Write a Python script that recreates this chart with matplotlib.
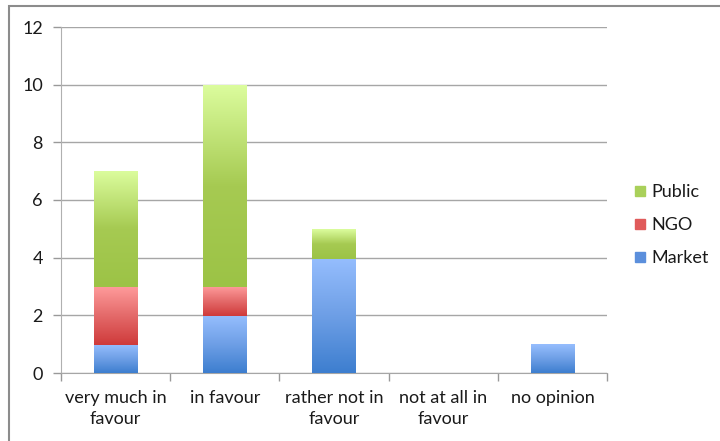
import numpy as np
import matplotlib
matplotlib.use("Agg")
import matplotlib.pyplot as plt
from matplotlib.colors import LinearSegmentedColormap
from matplotlib.patches import Rectangle
from matplotlib.lines import Line2D

plt.rcParams['font.family'] = ['Lato', 'DejaVu Sans']

categories = ["very much in\nfavour", "in favour", "rather not in\nfavour",
              "not at all in\nfavour", "no opinion"]
market = [1, 2, 4, 0, 1]
ngo = [2, 1, 0, 0, 0]
public = [4, 7, 1, 0, 0]

series = [
    ("Market", market, ["#3d7ecf", "#6e9fe6", "#96befe"], "#5b8fdc"),
    ("NGO", ngo, ["#cf3a3a", "#e46a6a", "#ff9c9c"], "#e05a5a"),
    ("Public", public, ["#9cc346", "#a6ca52", "#dcfd9e"], "#a9d05a"),
]

fig = plt.figure(figsize=(7.2, 4.41), dpi=100)
ax = fig.add_axes([61 / 720, 1 - 373 / 441, 546 / 720, 346 / 441])

x = np.arange(len(categories))
bottom = np.zeros(len(categories))
grad = np.linspace(0, 1, 256).reshape(-1, 1)
overlap = 0.03  # stacked segments overlap a hair so no seam shows

for name, vals, cols, solid in series:
    vals = np.array(vals, dtype=float)
    bars = ax.bar(x, vals, width=0.4, bottom=bottom, color="none",
                  edgecolor="none", zorder=3)
    cmap = LinearSegmentedColormap.from_list(name, cols)
    for b in bars:
        h = b.get_height()
        if h <= 0:
            continue
        x0, y0, w = b.get_x(), b.get_y(), b.get_width()
        lo = y0 - overlap if y0 > 0 else y0
        im = ax.imshow(grad, cmap=cmap, origin="lower", aspect="auto",
                       extent=[x0, x0 + w, lo, y0 + h], zorder=3,
                       interpolation="bicubic")
        clip = Rectangle((x0, lo), w, y0 + h - lo, transform=ax.transData)
        im.set_clip_path(clip)
    bottom += vals

ax.set_xlim(-0.5, len(categories) - 0.5)
ax.set_ylim(0, 12)
ax.set_yticks(np.arange(0, 13, 2))
ax.set_xticks(x)
ax.set_xticklabels(categories, fontsize=13, color="#1a1a1a", linespacing=1.4)
ax.tick_params(axis="y", labelsize=13, colors="#1a1a1a", length=6,
               width=1, color="#999999", pad=7)
ax.tick_params(axis="x", length=0, pad=12)
ax.set_xticks(np.arange(-0.5, len(categories) + 0.5, 1), minor=True)
ax.tick_params(axis="x", which="minor", length=6, width=1, color="#999999")

ax.grid(axis="y", color="#a6a6a6", linewidth=1, zorder=0)
for s in ["top", "right"]:
    ax.spines[s].set_visible(False)
ax.spines["left"].set_color("#b0b0b0")
ax.spines["bottom"].set_color("#a6a6a6")
ax.set_axisbelow(True)

handles = [Line2D([], [], marker="s", linestyle="none", markersize=6.5,
                  markerfacecolor=solid, markeredgecolor=solid)
           for _, _, _, solid in series[::-1]]
labels = [n for n, _, _, _ in series[::-1]]
fig.legend(handles, labels, loc="center left",
           bbox_to_anchor=(633 / 720, 1 - 225 / 441), frameon=False,
           fontsize=13, labelspacing=0.95, handlelength=0.8,
           handletextpad=0.2, borderpad=0, borderaxespad=0,
           labelcolor="#1a1a1a")

fig.patches.append(Rectangle((9 / 720, -0.1), 1.2, 1.1 - 6 / 441,
                             transform=fig.transFigure, fill=False,
                             edgecolor="#8c8c8c", linewidth=1.5))

fig.savefig("out.png", dpi=100)
